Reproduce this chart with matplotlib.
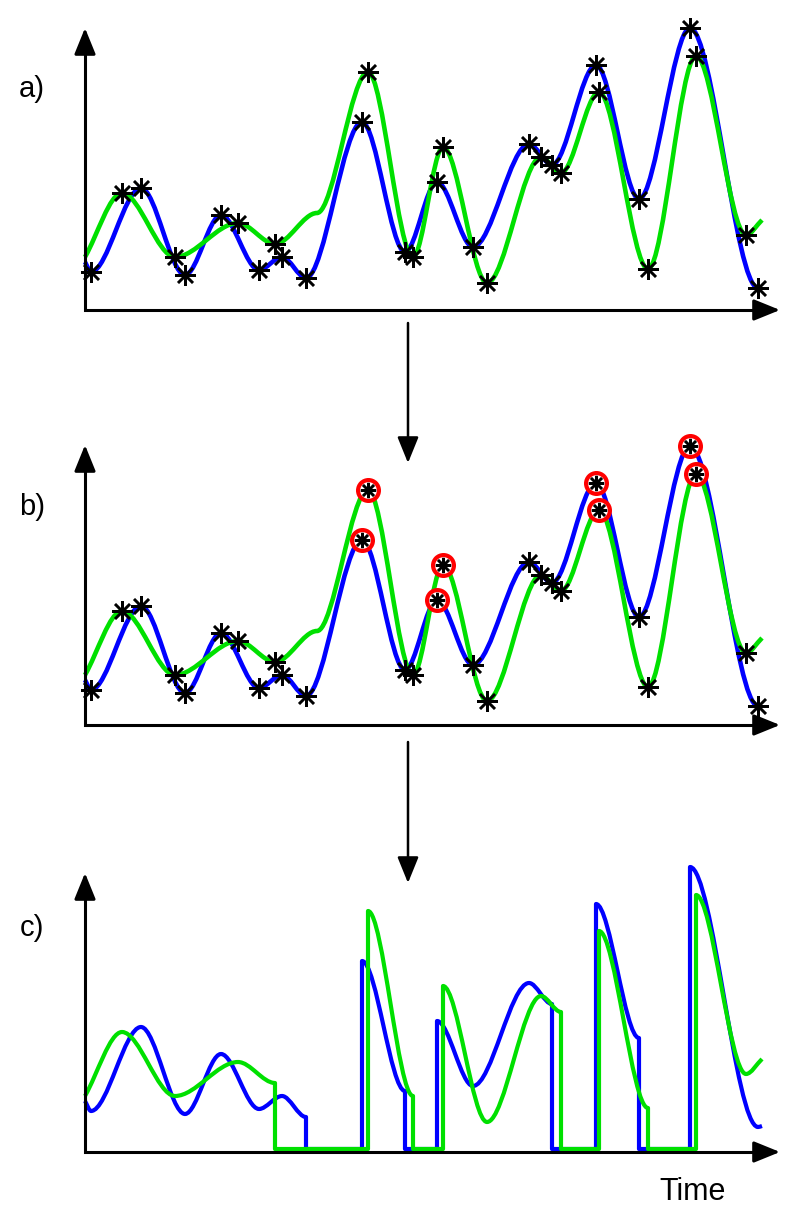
import matplotlib.pyplot as plt
from matplotlib.path import Path
from matplotlib.patches import PathPatch

plt.rcParams['font.family'] = ['Liberation Sans', 'DejaVu Sans']

# knots of the two signals (time, amplitude)
blue_t = [0, 6, 56, 100, 136, 174, 197, 221, 277, 320, 352, 388, 444, 467, 511, 554, 605, 673, 677]
blue_v = [48, 38, 122, 35, 95, 40, 53, 32, 188, 58, 128, 63, 166, 145, 245, 111, 282, 22, 23]
blue_mark = [0, 1, 1, 1, 1, 1, 1, 1, 1, 1, 1, 1, 1, 1, 1, 1, 1, 1, 0]

green_t = [0, 37, 90, 153, 190, 232, 283, 328, 358, 402, 456, 476, 514, 563, 611, 661, 677]
green_v = [53, 117, 53, 87, 66, 97, 238, 53, 163, 27, 153, 137, 218, 41, 254, 75, 90]
green_mark = [0, 1, 1, 1, 1, 0, 1, 1, 1, 1, 1, 1, 1, 1, 1, 1, 0]

# peaks picked in panel b
blue_picked = [277, 352, 511, 605]
green_picked = [283, 358, 514, 611]

# windows kept in panel c (start time, end time)
blue_keep = [(0, 221), (277, 320), (352, 467), (511, 554), (605, 677)]
green_keep = [(0, 190), (283, 328), (358, 476), (514, 563), (611, 677)]

BLUE = '#0000ff'
GREEN = '#00e000'


def curve_path(t, v, keep=None):
    if keep is None:
        keep = [(t[0], t[-1])]
    last = len(t) - 1
    verts, codes = [], []
    for k, (a, b) in enumerate(keep):
        i0, i1 = t.index(a), t.index(b)
        if k == 0:
            verts.append((a, v[i0]))
            codes.append(Path.MOVETO)
        else:
            verts += [(a, 0), (a, v[i0])]
            codes += [Path.LINETO, Path.LINETO]
        for i in range(i0, i1):
            d = (t[i + 1] - t[i]) / 3
            dv = (v[i + 1] - v[i]) / 3
            c1 = (t[i] + d, v[i] + (dv if i == 0 else 0))
            c2 = (t[i + 1] - d, v[i + 1] - (dv if i + 1 == last else 0))
            verts += [c1, c2, (t[i + 1], v[i + 1])]
            codes += [Path.CURVE4] * 3
        if k < len(keep) - 1:
            verts.append((b, 0))
            codes.append(Path.LINETO)
    return Path(verts, codes)


def arrow(ax, start, tip, lw=2.2, hl=16, hw=6.5):
    ax.annotate('', xy=tip, xytext=start, annotation_clip=False,
                arrowprops=dict(arrowstyle=f'-|>,head_length={hl},head_width={hw}',
                                mutation_scale=1, lw=lw, color='black',
                                shrinkA=0, shrinkB=0))


def make_panel(fig, base, axis_v, top_v, label, keep=False, picked=False, stars=True):
    ax = fig.add_axes([0, 1 - (base + 25) / 1225, 1, 325 / 1225])
    ax.set_xlim(-85, 715)
    ax.set_ylim(-25, 300)
    ax.axis('off')

    # axis shafts as one L, heads on top
    ax.plot([0, 0, 680], [top_v - 15, axis_v, axis_v], color='black', lw=2.2,
            solid_joinstyle='miter', solid_capstyle='butt')
    arrow(ax, (0, top_v - 20), (0, top_v))
    arrow(ax, (675, axis_v), (695, axis_v))
    ax.text(-53, 221, label, fontsize=21, ha='center', va='center')

    lw = 3.3 if not keep else 3.0
    for t, v, col, kp in [(blue_t, blue_v, BLUE, blue_keep), (green_t, green_v, GREEN, green_keep)]:
        p = curve_path(t, v, kp if keep else None)
        ax.add_patch(PathPatch(p, fill=False, edgecolor=col, lw=lw,
                               capstyle='butt', joinstyle='round'))

    if not stars:
        return ax
    for t, v, m, pk in [(blue_t, blue_v, blue_mark, blue_picked),
                        (green_t, green_v, green_mark, green_picked)]:
        pk = pk if picked else []
        free = [(x, y) for x, y, f in zip(t, v, m) if f and x not in pk]
        ax.plot([p[0] for p in free], [p[1] for p in free], ls='none',
                marker=(8, 2, 0), ms=15, mew=1.8, color='black')
        if pk:
            pv = [v[t.index(x)] for x in pk]
            ax.plot(pk, pv, ls='none', marker='o', ms=15,
                    mfc='white', mec='red', mew=3.0)
            ax.plot(pk, pv, ls='none', marker=(8, 2, 0), ms=11,
                    mew=1.8, color='black')
    return ax


fig = plt.figure(figsize=(8, 12.25), dpi=100)

ax_a = make_panel(fig, 310, 0, 282, 'a)')
ax_b = make_panel(fig, 728, 3, 283, 'b)', picked=True)
ax_c = make_panel(fig, 1149, -3, 276, 'c)', keep=True, stars=False)

arrow(ax_a, (323, -13), (323, -153), lw=1.8, hl=16, hw=6.5)
arrow(ax_b, (323, -14), (323, -155), lw=1.8, hl=16, hw=6.5)

ax_c.text(608, -43, 'Time', fontsize=22, ha='center', va='center')

fig.savefig('out.png', dpi=100)
